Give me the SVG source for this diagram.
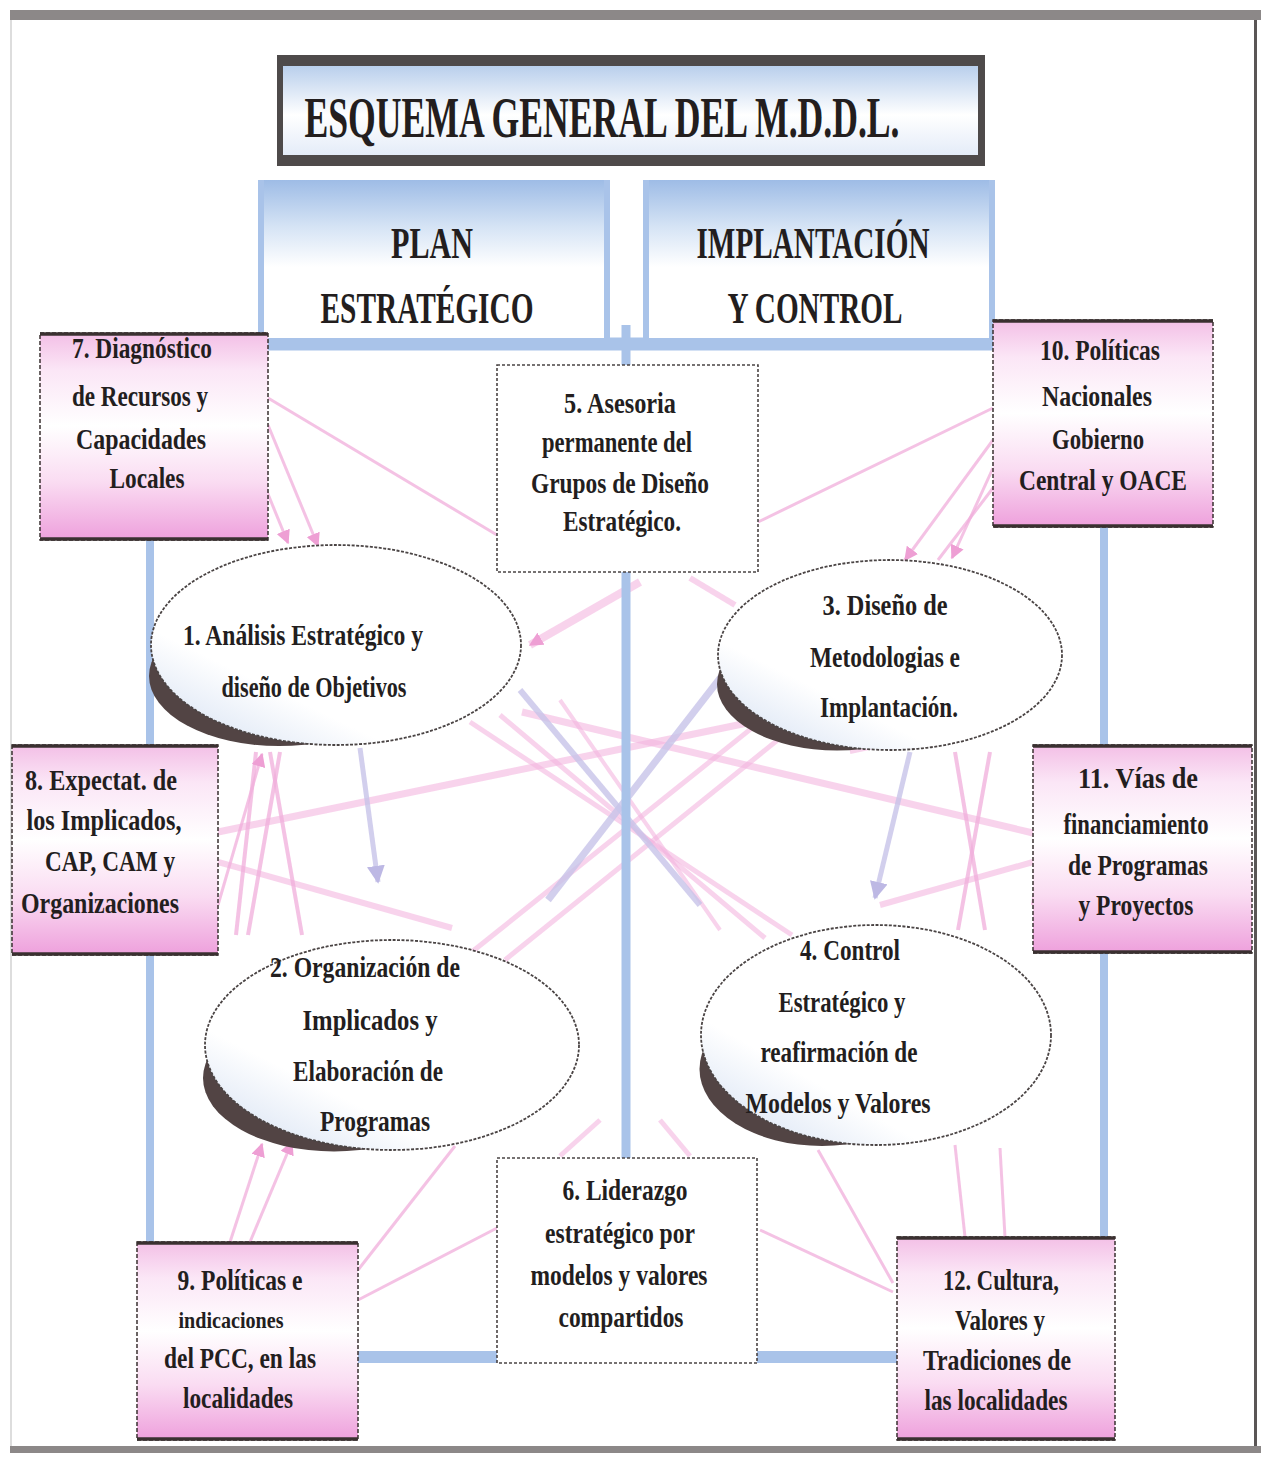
<svg xmlns="http://www.w3.org/2000/svg" width="1261" height="1459" viewBox="0 0 1261 1459">
<style>
.t{font-family:"Liberation Serif","Times New Roman",serif;font-weight:bold;fill:#231e1e;text-anchor:middle}
.bt{font-size:29px}
.hd{font-size:44px}
.pbox{fill:url(#pinkG);stroke:#3a3030;stroke-width:1.5;stroke-dasharray:4 2}
.edge{stroke:#3a3030;stroke-width:3.5}
.wbox{fill:#ffffff;stroke:#4a4444;stroke-width:1.6;stroke-dasharray:3 2}
.ell{fill:url(#ellG);stroke:#4a4444;stroke-width:1.8;stroke-dasharray:3 1.5}
.shade{fill:#524444}
.blue{stroke:#a9c3e9;fill:none}
.pk{stroke:#f0aedb;fill:none;stroke-opacity:0.75}
.pkt{stroke:#f4b6df;fill:none;stroke-opacity:0.6}
.lv{stroke:#c7c3e8;fill:none;stroke-opacity:0.8}
</style>
<defs>
<linearGradient id="pinkG" x1="0" y1="0" x2="0" y2="1">
<stop offset="0" stop-color="#f3bfe6"/>
<stop offset="0.18" stop-color="#fbe6f6"/>
<stop offset="0.45" stop-color="#ffffff"/>
<stop offset="0.72" stop-color="#fadcf2"/>
<stop offset="1" stop-color="#eea0dc"/>
</linearGradient>
<linearGradient id="ellG" x1="0" y1="1" x2="0.9" y2="0">
<stop offset="0" stop-color="#d0ddf1"/>
<stop offset="0.32" stop-color="#ffffff"/>
<stop offset="1" stop-color="#ffffff"/>
</linearGradient>
<linearGradient id="hdG" x1="0" y1="0" x2="0" y2="1">
<stop offset="0" stop-color="#9ebce6"/>
<stop offset="0.3" stop-color="#d6e4f5"/>
<stop offset="0.55" stop-color="#ffffff"/>
<stop offset="1" stop-color="#ffffff"/>
</linearGradient>
<linearGradient id="ttlG" x1="0" y1="0" x2="0" y2="1">
<stop offset="0" stop-color="#b9cfec"/>
<stop offset="0.55" stop-color="#ffffff"/>
<stop offset="1" stop-color="#e4ecf8"/>
</linearGradient>
<marker id="ap" viewBox="0 0 10 10" refX="9" refY="5" markerUnits="userSpaceOnUse" markerWidth="14" markerHeight="14" orient="auto-start-reverse">
<path d="M0,0 L10,5 L0,10 z" fill="#ee9fd4"/>
</marker>
<marker id="al" viewBox="0 0 10 10" refX="9" refY="5" markerUnits="userSpaceOnUse" markerWidth="18" markerHeight="18" orient="auto-start-reverse">
<path d="M0,0 L10,5 L0,10 z" fill="#bdb8e4"/>
</marker>
</defs>

<rect x="0" y="0" width="1261" height="1459" fill="#ffffff"/>
<g id="frame">
<rect x="10" y="10" width="1251" height="10" fill="#8c8888"/>
<rect x="10" y="1446" width="1251" height="7" fill="#8c8888"/>
<line x1="1255.5" y1="20" x2="1255.5" y2="1446" stroke="#5a5656" stroke-width="3"/>
<line x1="11" y1="20" x2="11" y2="1446" stroke="#dddddd" stroke-width="2"/>
</g>

<g id="connectors">
<path class="pk" stroke-width="3" d="M268,398 L497,535"/>
<path class="pk" stroke-width="3" d="M993,408 L758,522"/>
<path class="pk" stroke-width="3" d="M268,425 L318,546" marker-end="url(#ap)"/>
<path class="pk" stroke-width="3" d="M252,455 L288,543" marker-end="url(#ap)"/>
<path class="pk" stroke-width="3" d="M993,440 L905,560" marker-end="url(#ap)"/>
<path class="pk" stroke-width="3" d="M993,468 L952,558" marker-end="url(#ap)"/>
<path class="pk" stroke-width="3" d="M993,488 L938,560"/>
<path class="pkt" stroke-width="8" d="M640,582 L530,645" marker-end="url(#ap)"/>
<path class="pkt" stroke-width="6" d="M690,578 L735,605"/>
<path class="pkt" stroke-width="7" d="M218,832 L762,720"/>
<path class="pkt" stroke-width="6" d="M218,862 L452,928"/>
<path class="pkt" stroke-width="7" d="M1033,833 L522,712"/>
<path class="pkt" stroke-width="6" d="M1033,862 L880,905"/>
<path class="pkt" stroke-width="5" d="M470,722 L792,935"/>
<path class="pkt" stroke-width="5" d="M500,715 L765,938"/>
<path class="pkt" stroke-width="5" d="M772,712 L468,955"/>
<path class="pkt" stroke-width="5" d="M800,722 L505,960"/>
<path class="pkt" stroke-width="4" d="M560,700 L720,930"/>
<path class="pkt" stroke-width="4" d="M850,752 L1000,720"/>
<path class="lv" stroke-width="7" d="M728,668 L548,900"/>
<path class="lv" stroke-width="6" d="M520,690 L700,905"/>
<path class="lv" stroke-width="5" d="M360,748 L378,882" marker-end="url(#al)"/>
<path class="lv" stroke-width="5" d="M910,752 L875,898" marker-end="url(#al)"/>
<path class="pk" stroke-width="4" d="M256,752 L236,935"/>
<path class="pk" stroke-width="4" d="M270,752 L302,935"/>
<path class="pk" stroke-width="4" d="M280,752 L248,935"/>
<path class="pk" stroke-width="3" d="M218,905 L262,754" marker-end="url(#ap)"/>
<path class="pk" stroke-width="4" d="M955,752 L985,930"/>
<path class="pk" stroke-width="4" d="M990,752 L958,930"/>
<path class="pk" stroke-width="4" d="M1033,905 L1058,752"/>
<path class="pk" stroke-width="3" d="M230,1242 L262,1144" marker-end="url(#ap)"/>
<path class="pk" stroke-width="3" d="M250,1242 L292,1142" marker-end="url(#ap)"/>
<path class="pk" stroke-width="3" d="M358,1270 L455,1146"/>
<path class="pk" stroke-width="3" d="M358,1300 L497,1228"/>
<path class="pk" stroke-width="3" d="M893,1283 L818,1150"/>
<path class="pk" stroke-width="3" d="M893,1292 L760,1230"/>
<path class="pk" stroke-width="3" d="M965,1237 L955,1145"/>
<path class="pk" stroke-width="3" d="M1005,1237 L1000,1148"/>
<path class="pkt" stroke-width="5" d="M560,1156 L600,1120"/>
<path class="pkt" stroke-width="5" d="M690,1156 L660,1120"/>
</g>

<g id="blue-frame">
<line class="blue" x1="258" y1="344" x2="995" y2="344" stroke-width="13"/>
<line class="blue" x1="150" y1="540" x2="150" y2="1242" stroke-width="8"/>
<line class="blue" x1="1104" y1="527" x2="1104" y2="1237" stroke-width="8"/>
<line class="blue" x1="626" y1="325" x2="626" y2="1158" stroke-width="9"/>
<line class="blue" x1="358" y1="1357" x2="897" y2="1357" stroke-width="12"/>
</g>

<g id="title">
<rect x="277" y="55" width="708" height="111" fill="#4e4a4a"/>
<rect x="283" y="66" width="695" height="89" fill="url(#ttlG)"/>
<text class="t" x="602" y="137" font-size="56" textLength="595" lengthAdjust="spacingAndGlyphs">ESQUEMA GENERAL DEL M.D.D.L.</text>
</g>

<g id="plan">
<rect x="258" y="180" width="352" height="158" fill="url(#hdG)"/>
<rect x="258" y="180" width="6" height="160" fill="#a9c3e9"/>
<rect x="604" y="180" width="6" height="160" fill="#a9c3e9"/>
<text class="t hd" x="432" y="258" textLength="82" lengthAdjust="spacingAndGlyphs">PLAN</text>
<text class="t hd" x="427" y="323" textLength="213" lengthAdjust="spacingAndGlyphs">ESTRATÉGICO</text>
</g>

<g id="implantacion">
<rect x="643" y="180" width="352" height="158" fill="url(#hdG)"/>
<rect x="643" y="180" width="6" height="160" fill="#a9c3e9"/>
<rect x="989" y="180" width="6" height="160" fill="#a9c3e9"/>
<text class="t hd" x="813" y="258" textLength="233" lengthAdjust="spacingAndGlyphs">IMPLANTACIÓN</text>
<text class="t hd" x="815" y="323" textLength="175" lengthAdjust="spacingAndGlyphs">Y CONTROL</text>
</g>

<g id="n7">
<rect class="pbox" x="40" y="333" width="228" height="207"/>
<line class="edge" x1="40" y1="334" x2="268" y2="334"/>
<line class="edge" x1="40" y1="539" x2="268" y2="539"/>
<text class="t bt" x="142" y="358" textLength="140" lengthAdjust="spacingAndGlyphs">7. Diagnóstico</text>
<text class="t bt" x="140" y="406" textLength="136" lengthAdjust="spacingAndGlyphs">de Recursos y</text>
<text class="t bt" x="141" y="449" textLength="130" lengthAdjust="spacingAndGlyphs">Capacidades</text>
<text class="t bt" x="147" y="488" textLength="75" lengthAdjust="spacingAndGlyphs">Locales</text>
</g>

<g id="n10">
<rect class="pbox" x="993" y="320" width="220" height="207"/>
<line class="edge" x1="993" y1="321" x2="1213" y2="321"/>
<line class="edge" x1="993" y1="526" x2="1213" y2="526"/>
<text class="t bt" x="1100" y="360" textLength="120" lengthAdjust="spacingAndGlyphs">10. Políticas</text>
<text class="t bt" x="1097" y="406" textLength="110" lengthAdjust="spacingAndGlyphs">Nacionales</text>
<text class="t bt" x="1098" y="449" textLength="92" lengthAdjust="spacingAndGlyphs">Gobierno</text>
<text class="t bt" x="1103" y="490" textLength="168" lengthAdjust="spacingAndGlyphs">Central y OACE</text>
</g>

<g id="n5">
<rect class="wbox" x="497" y="365" width="261" height="207"/>
<text class="t bt" x="620" y="413" textLength="112" lengthAdjust="spacingAndGlyphs">5. Asesoria</text>
<text class="t bt" x="617" y="452" textLength="150" lengthAdjust="spacingAndGlyphs">permanente del</text>
<text class="t bt" x="620" y="493" textLength="178" lengthAdjust="spacingAndGlyphs">Grupos de Diseño</text>
<text class="t bt" x="622" y="531" textLength="118" lengthAdjust="spacingAndGlyphs">Estratégico.</text>
</g>

<g id="n1">
<ellipse class="shade" cx="279" cy="676" rx="130" ry="70"/>
<ellipse class="ell" cx="336" cy="645" rx="185" ry="100"/>
<text class="t bt" x="303" y="645" textLength="240" lengthAdjust="spacingAndGlyphs">1. Análisis Estratégico y</text>
<text class="t bt" x="314" y="697" textLength="185" lengthAdjust="spacingAndGlyphs">diseño de Objetivos</text>
</g>

<g id="n3">
<ellipse class="shade" cx="837" cy="684" rx="120" ry="66.5"/>
<ellipse class="ell" cx="890" cy="655" rx="172" ry="95"/>
<text class="t bt" x="885" y="615" textLength="125" lengthAdjust="spacingAndGlyphs">3. Diseño de</text>
<text class="t bt" x="885" y="667" textLength="150" lengthAdjust="spacingAndGlyphs">Metodologias e</text>
<text class="t bt" x="889" y="717" textLength="138" lengthAdjust="spacingAndGlyphs">Implantación.</text>
</g>

<g id="n8">
<rect class="pbox" x="12" y="745" width="206" height="210"/>
<line class="edge" x1="12" y1="746" x2="218" y2="746"/>
<line class="edge" x1="12" y1="954" x2="218" y2="954"/>
<text class="t bt" x="101" y="790" textLength="152" lengthAdjust="spacingAndGlyphs">8. Expectat. de</text>
<text class="t bt" x="104" y="830" textLength="155" lengthAdjust="spacingAndGlyphs">los Implicados,</text>
<text class="t bt" x="110" y="871" textLength="130" lengthAdjust="spacingAndGlyphs">CAP, CAM y</text>
<text class="t bt" x="100" y="913" textLength="158" lengthAdjust="spacingAndGlyphs">Organizaciones</text>
</g>

<g id="n11">
<rect class="pbox" x="1033" y="745" width="219" height="208"/>
<line class="edge" x1="1033" y1="746" x2="1252" y2="746"/>
<line class="edge" x1="1033" y1="952" x2="1252" y2="952"/>
<text class="t bt" x="1138" y="788" textLength="120" lengthAdjust="spacingAndGlyphs">11. Vías de</text>
<text class="t bt" x="1136" y="834" textLength="145" lengthAdjust="spacingAndGlyphs">financiamiento</text>
<text class="t bt" x="1138" y="875" textLength="140" lengthAdjust="spacingAndGlyphs">de Programas</text>
<text class="t bt" x="1136" y="915" textLength="115" lengthAdjust="spacingAndGlyphs">y Proyectos</text>
</g>

<g id="n2">
<ellipse class="shade" cx="334" cy="1078" rx="131" ry="73.5"/>
<ellipse class="ell" cx="392" cy="1045" rx="187" ry="105"/>
<text class="t bt" x="365" y="977" textLength="190" lengthAdjust="spacingAndGlyphs">2. Organización de</text>
<text class="t bt" x="370" y="1030" textLength="135" lengthAdjust="spacingAndGlyphs">Implicados  y</text>
<text class="t bt" x="368" y="1081" textLength="150" lengthAdjust="spacingAndGlyphs">Elaboración de</text>
<text class="t bt" x="375" y="1131" textLength="110" lengthAdjust="spacingAndGlyphs">Programas</text>
</g>

<g id="n4">
<ellipse class="shade" cx="822" cy="1069" rx="122.5" ry="77"/>
<ellipse class="ell" cx="876" cy="1035" rx="175" ry="110"/>
<text class="t bt" x="850" y="960" textLength="100" lengthAdjust="spacingAndGlyphs">4. Control</text>
<text class="t bt" x="842" y="1012" textLength="127" lengthAdjust="spacingAndGlyphs">Estratégico y</text>
<text class="t bt" x="839" y="1062" textLength="157" lengthAdjust="spacingAndGlyphs">reafirmación de</text>
<text class="t bt" x="838" y="1113" textLength="185" lengthAdjust="spacingAndGlyphs">Modelos y Valores</text>
</g>

<g id="n6">
<rect class="wbox" x="497" y="1158" width="260" height="205"/>
<text class="t bt" x="625" y="1200" textLength="125" lengthAdjust="spacingAndGlyphs">6. Liderazgo</text>
<text class="t bt" x="620" y="1243" textLength="150" lengthAdjust="spacingAndGlyphs">estratégico por</text>
<text class="t bt" x="619" y="1285" textLength="177" lengthAdjust="spacingAndGlyphs">modelos y valores</text>
<text class="t bt" x="621" y="1327" textLength="125" lengthAdjust="spacingAndGlyphs">compartidos</text>
</g>

<g id="n9">
<rect class="pbox" x="137" y="1242" width="221" height="198"/>
<line class="edge" x1="137" y1="1243" x2="358" y2="1243"/>
<line class="edge" x1="137" y1="1439" x2="358" y2="1439"/>
<text class="t bt" x="240" y="1290" textLength="125" lengthAdjust="spacingAndGlyphs">9. Políticas e</text>
<text class="t" x="231" y="1328" font-size="24" textLength="105" lengthAdjust="spacingAndGlyphs">indicaciones</text>
<text class="t bt" x="240" y="1368" textLength="152" lengthAdjust="spacingAndGlyphs">del PCC, en las</text>
<text class="t bt" x="238" y="1408" textLength="110" lengthAdjust="spacingAndGlyphs">localidades</text>
</g>

<g id="n12">
<rect class="pbox" x="897" y="1237" width="218" height="203"/>
<line class="edge" x1="897" y1="1238" x2="1115" y2="1238"/>
<line class="edge" x1="897" y1="1439" x2="1115" y2="1439"/>
<text class="t bt" x="1001" y="1290" textLength="116" lengthAdjust="spacingAndGlyphs">12. Cultura,</text>
<text class="t bt" x="1000" y="1330" textLength="90" lengthAdjust="spacingAndGlyphs">Valores y</text>
<text class="t bt" x="997" y="1370" textLength="148" lengthAdjust="spacingAndGlyphs">Tradiciones de</text>
<text class="t bt" x="996" y="1410" textLength="143" lengthAdjust="spacingAndGlyphs">las localidades</text>
</g>
</svg>
